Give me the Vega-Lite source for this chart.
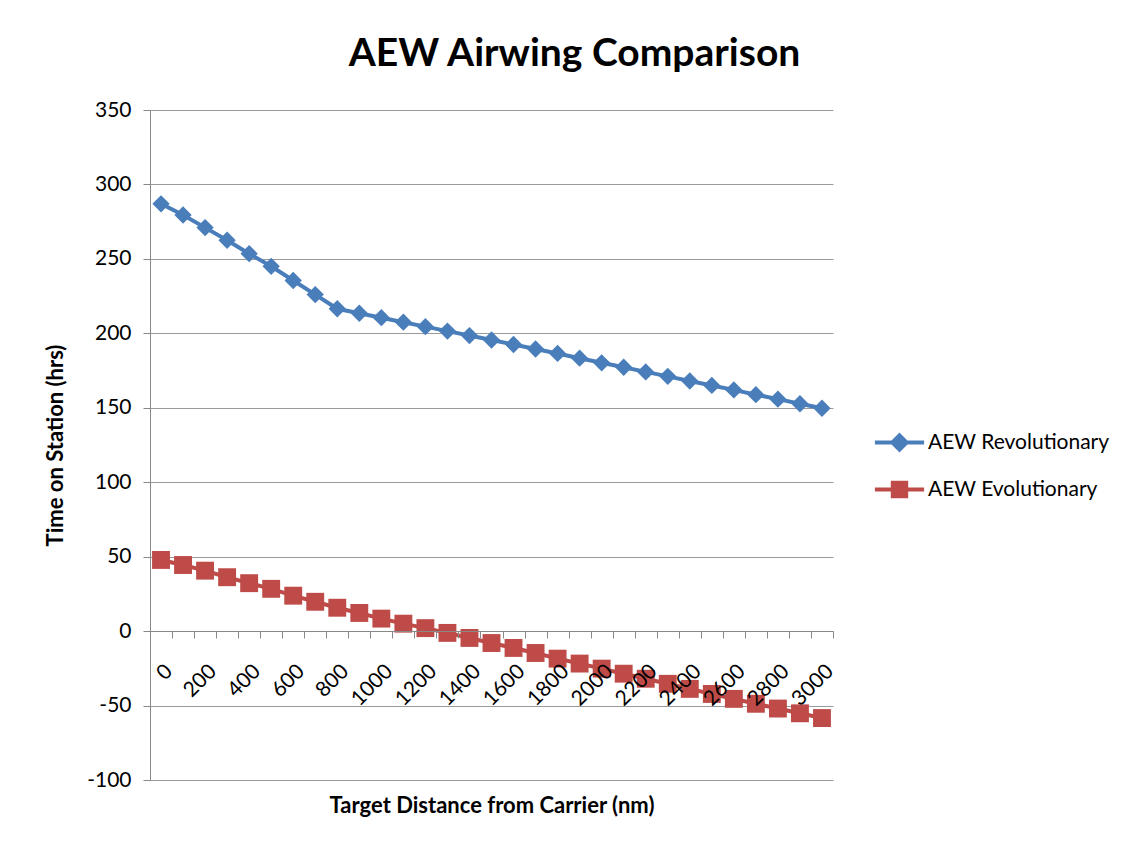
{
  "$schema": "https://vega.github.io/schema/vega-lite/v6.json",
  "width": 683,
  "height": 670,
  "autosize": "none",
  "padding": {"left": 150, "top": 110, "right": 302, "bottom": 61},
  "background": "white",
  "title": {
    "text": "AEW Airwing Comparison",
    "font": "Lato",
    "fontSize": 39,
    "fontWeight": "bold",
    "color": "#000000",
    "anchor": "middle",
    "dx": 83,
    "offset": 25
  },
  "data": {
    "values": [
      {"d": 0, "series": "AEW Revolutionary", "t": 287},
      {"d": 100, "series": "AEW Revolutionary", "t": 279.5},
      {"d": 200, "series": "AEW Revolutionary", "t": 271},
      {"d": 300, "series": "AEW Revolutionary", "t": 262.5},
      {"d": 400, "series": "AEW Revolutionary", "t": 253.5},
      {"d": 500, "series": "AEW Revolutionary", "t": 245},
      {"d": 600, "series": "AEW Revolutionary", "t": 235.5},
      {"d": 700, "series": "AEW Revolutionary", "t": 226},
      {"d": 800, "series": "AEW Revolutionary", "t": 216.5},
      {"d": 900, "series": "AEW Revolutionary", "t": 213.5},
      {"d": 1000, "series": "AEW Revolutionary", "t": 210.5},
      {"d": 1100, "series": "AEW Revolutionary", "t": 207.5},
      {"d": 1200, "series": "AEW Revolutionary", "t": 204.5},
      {"d": 1300, "series": "AEW Revolutionary", "t": 201.5},
      {"d": 1400, "series": "AEW Revolutionary", "t": 198.5},
      {"d": 1500, "series": "AEW Revolutionary", "t": 195.5},
      {"d": 1600, "series": "AEW Revolutionary", "t": 192.5},
      {"d": 1700, "series": "AEW Revolutionary", "t": 189.5},
      {"d": 1800, "series": "AEW Revolutionary", "t": 186.5},
      {"d": 1900, "series": "AEW Revolutionary", "t": 183.3},
      {"d": 2000, "series": "AEW Revolutionary", "t": 180.2},
      {"d": 2100, "series": "AEW Revolutionary", "t": 177.2},
      {"d": 2200, "series": "AEW Revolutionary", "t": 174.1},
      {"d": 2300, "series": "AEW Revolutionary", "t": 171.1},
      {"d": 2400, "series": "AEW Revolutionary", "t": 168},
      {"d": 2500, "series": "AEW Revolutionary", "t": 165},
      {"d": 2600, "series": "AEW Revolutionary", "t": 162},
      {"d": 2700, "series": "AEW Revolutionary", "t": 158.8},
      {"d": 2800, "series": "AEW Revolutionary", "t": 155.8},
      {"d": 2900, "series": "AEW Revolutionary", "t": 152.7},
      {"d": 3000, "series": "AEW Revolutionary", "t": 149.7},
      {"d": 0, "series": "AEW Evolutionary", "t": 47.8},
      {"d": 100, "series": "AEW Evolutionary", "t": 44.4},
      {"d": 200, "series": "AEW Evolutionary", "t": 40.6},
      {"d": 300, "series": "AEW Evolutionary", "t": 36.2},
      {"d": 400, "series": "AEW Evolutionary", "t": 32.2},
      {"d": 500, "series": "AEW Evolutionary", "t": 28.4},
      {"d": 600, "series": "AEW Evolutionary", "t": 23.8},
      {"d": 700, "series": "AEW Evolutionary", "t": 19.7},
      {"d": 800, "series": "AEW Evolutionary", "t": 15.7},
      {"d": 900, "series": "AEW Evolutionary", "t": 12.2},
      {"d": 1000, "series": "AEW Evolutionary", "t": 8.4},
      {"d": 1100, "series": "AEW Evolutionary", "t": 5},
      {"d": 1200, "series": "AEW Evolutionary", "t": 2},
      {"d": 1300, "series": "AEW Evolutionary", "t": -1.2},
      {"d": 1400, "series": "AEW Evolutionary", "t": -4.6},
      {"d": 1500, "series": "AEW Evolutionary", "t": -8},
      {"d": 1600, "series": "AEW Evolutionary", "t": -11.3},
      {"d": 1700, "series": "AEW Evolutionary", "t": -14.7},
      {"d": 1800, "series": "AEW Evolutionary", "t": -18.5},
      {"d": 1900, "series": "AEW Evolutionary", "t": -21.8},
      {"d": 2000, "series": "AEW Evolutionary", "t": -25.2},
      {"d": 2100, "series": "AEW Evolutionary", "t": -28.6},
      {"d": 2200, "series": "AEW Evolutionary", "t": -32},
      {"d": 2300, "series": "AEW Evolutionary", "t": -35.4},
      {"d": 2400, "series": "AEW Evolutionary", "t": -38.8},
      {"d": 2500, "series": "AEW Evolutionary", "t": -42.2},
      {"d": 2600, "series": "AEW Evolutionary", "t": -45.5},
      {"d": 2700, "series": "AEW Evolutionary", "t": -48.8},
      {"d": 2800, "series": "AEW Evolutionary", "t": -52},
      {"d": 2900, "series": "AEW Evolutionary", "t": -55.2},
      {"d": 3000, "series": "AEW Evolutionary", "t": -58.4}
    ]
  },
  "encoding": {
    "x": {
      "field": "d",
      "type": "ordinal",
      "sort": "ascending",
      "scale": {"type": "band", "paddingInner": 0, "paddingOuter": 0},
      "axis": {
        "title": "Target Distance from Carrier (nm)",
        "titleFont": "Lato",
        "titleFontSize": 22,
        "titleFontWeight": "bold",
        "titleColor": "#000000",
        "titleY": 181,
        "titleBaseline": "alphabetic",
        "offset": -149,
        "zindex": 1,
        "labelExpr": "datum.value % 200 == 0 ? datum.label : ''",
        "labelAngle": -45,
        "labelFont": "Lato",
        "labelFontSize": 21,
        "labelColor": "#000000",
        "labelOverlap": false,
        "labelPadding": 22,
        "tickBand": "extent",
        "ticks": true,
        "tickSize": 7,
        "tickColor": "#888888",
        "domainColor": "#888888",
        "grid": false
      }
    },
    "y": {
      "field": "t",
      "type": "quantitative",
      "scale": {"domain": [-100, 350], "nice": false, "zero": false},
      "axis": {
        "title": "Time on Station (hrs)",
        "titleFont": "Lato",
        "titleFontSize": 22,
        "titleFontWeight": "bold",
        "titleColor": "#000000",
        "titleX": -95,
        "titleBaseline": "middle",
        "values": [-100, -50, 0, 50, 100, 150, 200, 250, 300, 350],
        "labelExpr": "replace(datum.label, '\u2212', '-')",
        "labelFont": "Lato",
        "labelFontSize": 21,
        "labelColor": "#000000",
        "labelPadding": 12,
        "tickSize": 7,
        "tickColor": "#888888",
        "domainColor": "#888888",
        "grid": true,
        "gridColor": "#9a9a9a",
        "gridWidth": 1
      }
    },
    "color": {
      "field": "series",
      "type": "nominal",
      "scale": {"domain": ["AEW Revolutionary", "AEW Evolutionary"], "range": ["#4A7EBB", "#BE4B48"]},
      "legend": {
        "title": null,
        "orient": "none",
        "legendX": 725,
        "legendY": 308,
        "labelFont": "Lato",
        "labelFontSize": 21,
        "labelColor": "#000000",
        "labelOffset": 4,
        "labelLimit": 0,
        "symbolSize": 2000,
        "rowPadding": 7,
        "encode": {
          "symbols": {
            "update": {
              "shape": {"signal": "datum.value === 'AEW Revolutionary' ? 'M-1.1,0H1.1M0,-0.32L0.32,0L0,0.32L-0.32,0Z' : 'M-1.1,0H1.1M-0.3,-0.3H0.3V0.3H-0.3Z'"},
              "fill": {"signal": "datum.value === 'AEW Revolutionary' ? '#4A7EBB' : '#BE4B48'"},
              "stroke": {"signal": "datum.value === 'AEW Revolutionary' ? '#4A7EBB' : '#BE4B48'"},
              "strokeWidth": {"value": 4},
              "opacity": {"value": 1}
            }
          }
        }
      }
    }
  },
  "layer": [
    {"mark": {"type": "line", "strokeWidth": 4}},
    {
      "transform": [{"filter": "datum.series === 'AEW Revolutionary'"}],
      "mark": {"type": "point", "filled": true, "opacity": 1, "shape": "diamond", "size": 300}
    },
    {
      "transform": [{"filter": "datum.series === 'AEW Evolutionary'"}],
      "mark": {"type": "point", "filled": true, "opacity": 1, "shape": "square", "size": 320}
    }
  ],
  "config": {
    "view": {"stroke": null},
    "axis": {"domainWidth": 1, "tickWidth": 1}
  }
}
